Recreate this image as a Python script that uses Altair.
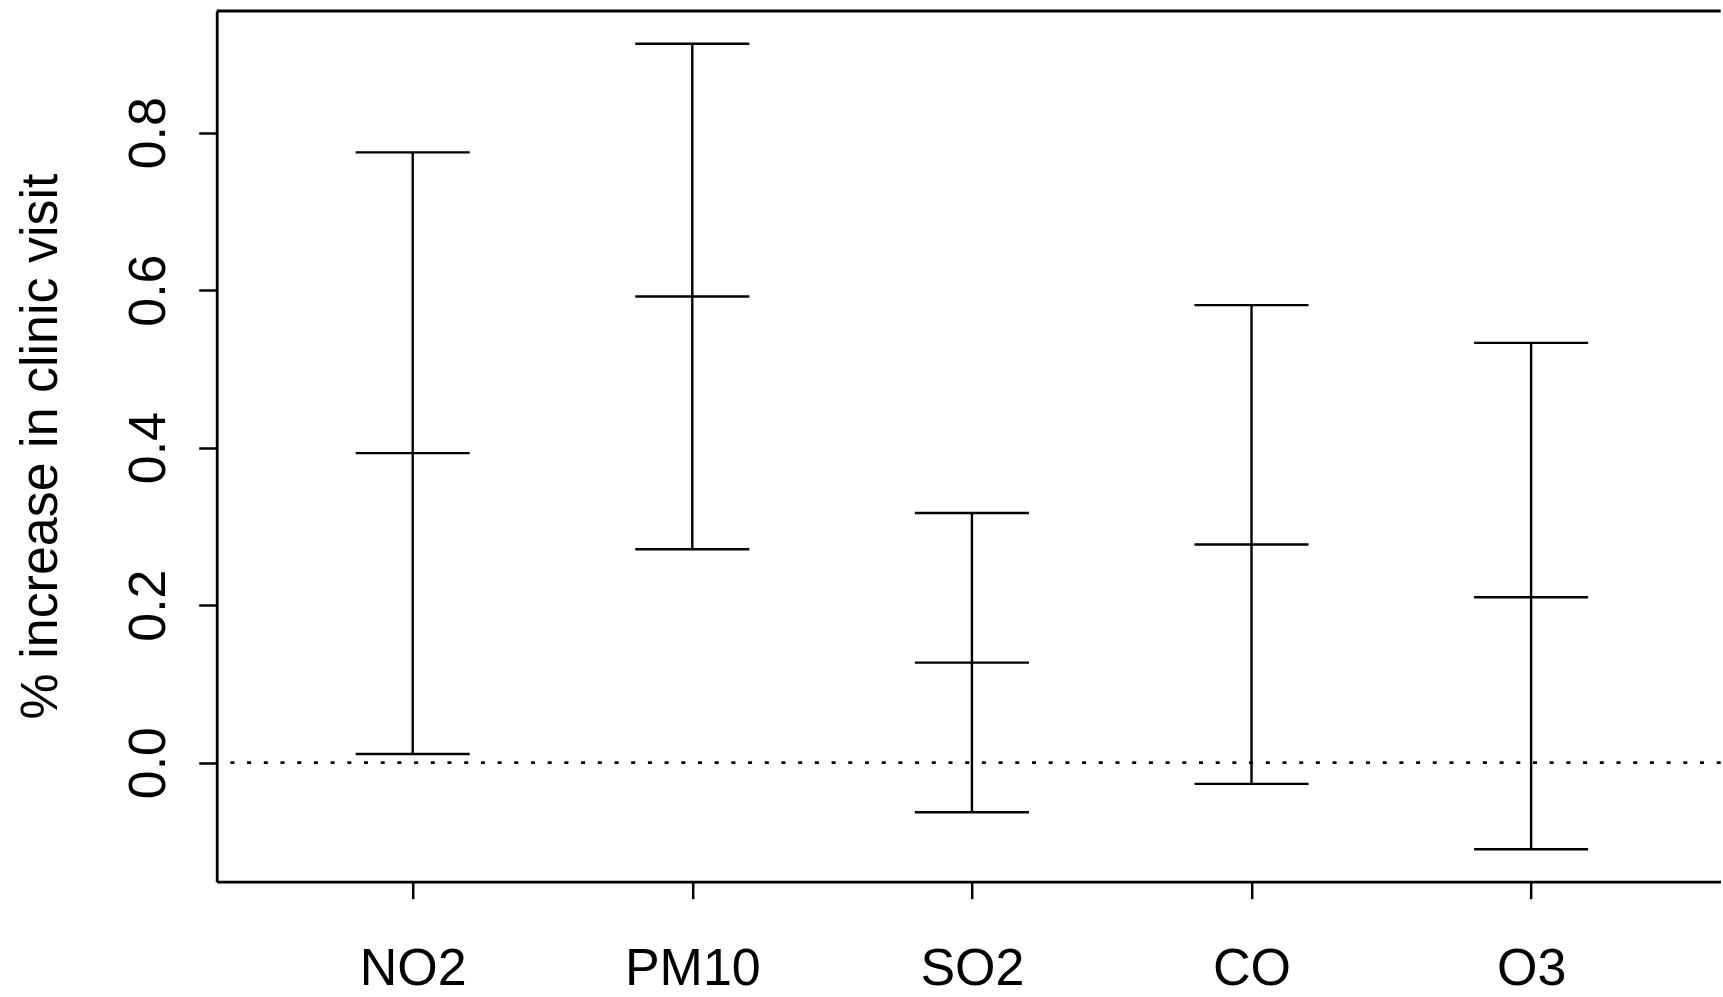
import json
import altair as alt
import pandas as pd

pollutants = ["NO2", "PM10", "SO2", "CO", "O3"]
estimate = [0.393, 0.592, 0.127, 0.277, 0.210]
lower = [0.011, 0.271, -0.063, -0.027, -0.110]
upper = [0.775, 0.913, 0.317, 0.581, 0.533]
y_ticks = [0.0, 0.2, 0.4, 0.6, 0.8]

df = pd.DataFrame({
    "pollutant": pollutants,
    "pos": list(range(1, len(pollutants) + 1)),
    "estimate": estimate,
    "lower": lower,
    "upper": upper,
})

W, H = 1504, 870.7
XD = [0.299, 5.678]
YD = [-0.1512, 0.9545]
FONT = "Liberation Sans"
labels_js = json.dumps(pollutants)

xs = alt.Scale(domain=XD, nice=False, zero=False)
ys = alt.Scale(domain=YD, nice=False, zero=False)

base = alt.Chart(df)

stems = base.mark_rule(color="black", strokeWidth=2.4).encode(
    x=alt.X("pos:Q", scale=xs, axis=alt.Axis(
        values=list(range(1, len(pollutants) + 1)),
        labelExpr=f"{labels_js}[datum.value - 1]",
        title=None, grid=False, domainColor="black", domainWidth=2.8,
        tickColor="black", tickWidth=2.5, tickSize=17,
        labelFont=FONT, labelFontSize=52, labelColor="black",
        labelBaseline="alphabetic", labelPadding=86, labelFlush=False,
        labelOverlap=False)),
    y=alt.Y("lower:Q", scale=ys, axis=alt.Axis(
        values=y_ticks, format=".1f",
        title="% increase in clinic visit", grid=False,
        domainColor="black", domainWidth=2.8,
        tickColor="black", tickWidth=2.5, tickSize=18,
        labelFont=FONT, labelFontSize=52, labelColor="black",
        labelAngle=-90, labelAlign="center", labelBaseline="alphabetic",
        labelPadding=34, labelFlush=False, labelOverlap=False,
        titleFont=FONT, titleFontSize=52, titleFontWeight="normal",
        titleColor="black", titleAngle=-90, titleAlign="center",
        titleBaseline="alphabetic", titleX=-160, titleY=435)),
    y2="upper:Q",
)

caps = base.transform_fold(
    ["lower", "estimate", "upper"], as_=["kind", "val"]
).transform_calculate(
    xl="datum.pos - 0.204", xr="datum.pos + 0.204"
).mark_rule(color="black", strokeWidth=2.4).encode(
    x=alt.X("xl:Q", scale=xs),
    x2="xr:Q",
    y=alt.Y("val:Q", scale=ys),
)

zero = alt.Chart(pd.DataFrame({"z": [0.0]})).mark_rule(
    color="black", strokeWidth=2.6, strokeDash=[4, 12.7]
).encode(y=alt.Y("z:Q", scale=ys))

top = alt.Chart(pd.DataFrame({"z": [0.0]})).mark_rule(
    color="black", strokeWidth=2.8
).encode(x=alt.value(0), x2=alt.value(W), y=alt.value(0))

chart = alt.layer(zero, stems, caps, top).properties(
    width=W, height=H,
    autosize=alt.AutoSizeParams(type="none"),
    padding={"left": 216.7, "top": 11, "right": 0, "bottom": 115},
    background="white",
).configure_view(stroke=None)

chart.save("out.html", embed_options={"renderer": "svg", "actions": False})
